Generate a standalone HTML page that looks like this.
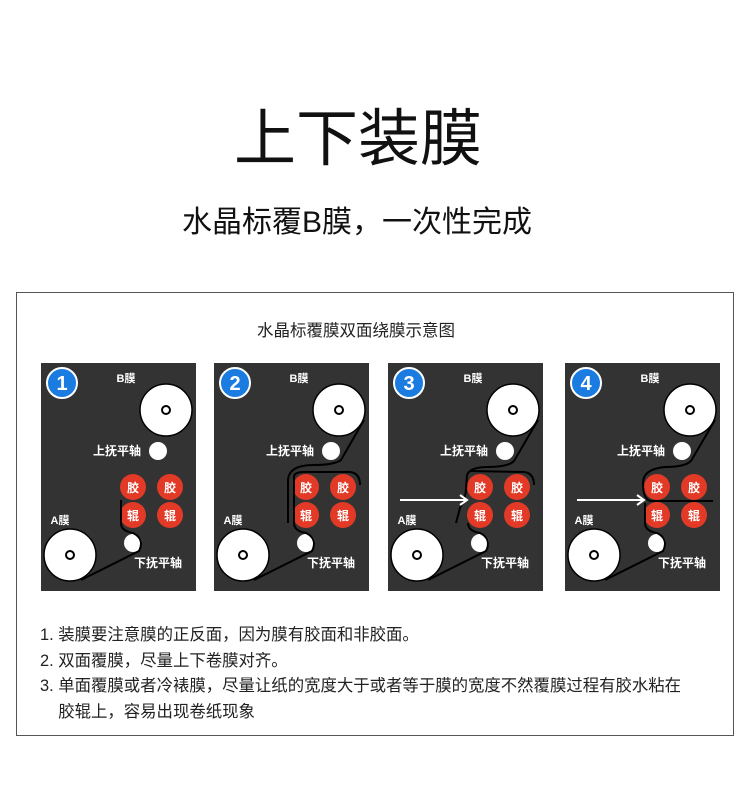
<!DOCTYPE html>
<html><head><meta charset="utf-8"><style>
body{margin:0;width:750px;height:806px;background:#fff;position:relative;overflow:hidden;font-family:"Liberation Sans","Noto Sans CJK SC",sans-serif;color:#222}
.t{position:absolute;white-space:nowrap}
</style></head><body>
<div class="t" style="left:0;width:716px;text-align:center;top:88px;font-size:62px;color:#111">上下装膜</div>
<div class="t" style="left:0;width:714px;text-align:center;top:197px;font-size:30px;color:#111">水晶标覆B膜，一次性完成</div>
<div style="position:absolute;left:16px;top:292px;width:716px;height:442px;border:1px solid #555"></div>
<div class="t" style="left:0;width:712px;text-align:center;top:317px;font-size:16.5px">水晶标覆膜双面绕膜示意图</div>
<div class="t" style="left:40px;top:623px;font-size:16.4px;line-height:25.7px">1. 装膜要注意膜的正反面，因为膜有胶面和非胶面。<br>2. 双面覆膜，尽量上下卷膜对齐。<br>3. 单面覆膜或者冷裱膜，尽量让纸的宽度大于或者等于膜的宽度不然覆膜过程有胶水粘在<br>&nbsp;&nbsp;&nbsp;&nbsp;胶辊上，容易出现卷纸现象</div>
<svg width="750" height="806" style="position:absolute;left:0;top:0" font-family="Liberation Sans,Noto Sans CJK SC,sans-serif">
<defs>
<g id="base" stroke="none">
<rect x="0" y="0" width="155" height="228" fill="#333"/>
<circle cx="21" cy="20" r="15" fill="#1a7be0" stroke="#fff" stroke-width="2"/>
<text x="85" y="19" fill="#fff" font-size="11" font-weight="bold" text-anchor="middle">B膜</text>
<circle cx="125" cy="47" r="26" fill="#fff" stroke="#000" stroke-width="1.5"/>
<circle cx="125" cy="47" r="4" fill="#fff" stroke="#000" stroke-width="2"/>
<text x="100" y="92" fill="#fff" font-size="12" font-weight="bold" text-anchor="end">上抚平轴</text>
<circle cx="117" cy="88" r="9" fill="#fff"/>
<g fill="#e23a26"><circle cx="92" cy="124" r="13"/><circle cx="129" cy="124" r="13"/><circle cx="92" cy="152" r="13"/><circle cx="129" cy="152" r="13"/></g>
<g fill="#fff" font-size="12" font-weight="bold" text-anchor="middle"><text x="92" y="129">胶</text><text x="129" y="129">胶</text><text x="92" y="157">辊</text><text x="129" y="157">辊</text></g>
<text x="19" y="161" fill="#fff" font-size="11" font-weight="bold" text-anchor="middle">A膜</text>
<circle cx="29" cy="192" r="26" fill="#fff" stroke="#000" stroke-width="1.5"/>
<circle cx="29" cy="192" r="4" fill="#fff" stroke="#000" stroke-width="2"/>
<circle cx="92" cy="180" r="9" fill="#fff"/>
<text x="117" y="204" fill="#fff" font-size="12" font-weight="bold" text-anchor="middle">下抚平轴</text>
</g>
</defs>
<g transform="translate(41,363)"><use href="#base"/>
<text x="21" y="27" fill="#fff" font-size="20" font-weight="bold" text-anchor="middle">1</text>
<path fill="none" stroke="#000" stroke-width="2" d="M40,217 L98,188 Q104,176 92,170 Q80,168 80,160 L80,137"/></g>
<g transform="translate(214,363)"><use href="#base"/>
<text x="21" y="27" fill="#fff" font-size="20" font-weight="bold" text-anchor="middle">2</text>
<g fill="none" stroke="#000" stroke-width="2">
<path d="M150,57 L127,97 Q120,102 100,102 Q74,102 74,118 L74,160"/>
<path d="M40,217 L98,188 Q104,176 92,170 Q80,168 80,160 L80,114 Q80,109 90,109 L136,109 Q146,110 146,122"/></g></g>
<g transform="translate(388,363)"><use href="#base"/>
<text x="21" y="27" fill="#fff" font-size="20" font-weight="bold" text-anchor="middle">3</text>
<g fill="none" stroke="#000" stroke-width="2">
<path d="M150,57 L126,98 Q120,104 100,104 Q82,104 79,112 L78,126 Q78,134 72,145 L68,160"/>
<path d="M40,217 L98,188 Q104,176 92,170 Q80,168 80,160"/>
<path d="M82,108 L136,109 Q146,110 146,122"/>
<path d="M12,137 L78,137 M72,132 L79,137 L72,142" stroke="#fff"/></g></g>
<g transform="translate(565,363)"><use href="#base"/>
<text x="21" y="27" fill="#fff" font-size="20" font-weight="bold" text-anchor="middle">4</text>
<g fill="none" stroke="#000" stroke-width="2">
<path d="M150,57 L126,98 Q120,104 100,104 Q78,106 78,120 Q78,137 86,138 L148,138"/>
<path d="M40,217 L98,188 Q104,176 92,170 Q80,168 80,160 L80,140"/>
<path d="M12,137 L78,137 M72,132 L79,137 L72,142" stroke="#fff"/></g></g>
</svg>
</body></html>
